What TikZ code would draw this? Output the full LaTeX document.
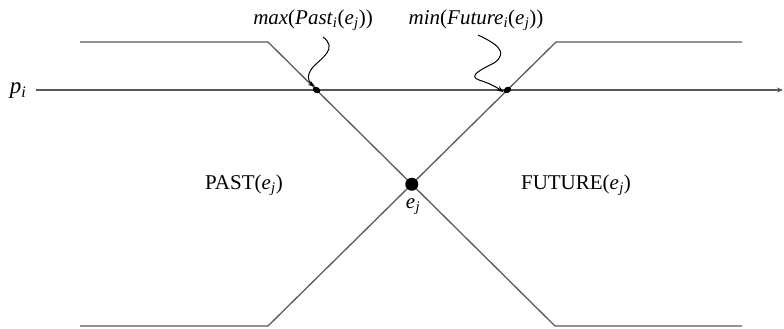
\documentclass[tikz,border=0pt]{standalone}
\usepackage{fontspec}
\setmainfont{Liberation Serif}
\usetikzlibrary{arrows.meta,intersections,shapes.geometric}
\newcommand{\ejx}{\textit{e}\kern0.3pt\textsubscript{\textit{j}}}
\begin{document}
\begin{tikzpicture}[x=1pt,y=-1pt,
  cone/.style={draw=black!65,line width=1.3pt},
  lbl/.style={font=\fontsize{21}{24}\selectfont,inner sep=0pt},
  squig/.style={draw=black,line width=1pt,-{Stealth[length=7pt,width=5pt]}},
  bigdot/.style={circle,fill=black,inner sep=0pt,minimum size=13pt},
  smalldot/.style={ellipse,fill=black,inner sep=0pt,minimum width=8pt,minimum height=6pt}]
\useasboundingbox (0,0) rectangle (784,329);
% cone corners
\coordinate (tl1) at (80,42);
\coordinate (tl2) at (268,42);
\coordinate (bl1) at (80,326);
\coordinate (bl2) at (268,326);
\coordinate (tr1) at (556,42);
\coordinate (tr2) at (742,42);
\coordinate (br1) at (555,326);
\coordinate (br2) at (742,326);
\coordinate (p1) at (36,90);
\coordinate (p2) at (783,90);
\draw[cone] (tl1) -- (tl2) -- (br1) -- (br2);
\draw[cone] (tr2) -- (tr1) -- (bl2) -- (bl1);
\draw[cone,-{Stealth[length=6pt,width=5pt]}] (p1) -- (p2);
% intersections
\node[bigdot] (ej) at (intersection of tl2--br1 and tr1--bl2) {};
\node[smalldot,rotate=-30] (mx) at (intersection of p1--p2 and tl2--br1) {};
\node[smalldot,rotate=30] (mn) at (intersection of p1--p2 and tr1--bl2) {};
% labels
\node[lbl,font=\fontsize{23}{26}\selectfont] (pi) at (18,91) {\textit{p}\textsubscript{\textit{i}}};
\node[lbl] (maxl) at (313,20) {\textit{max}(\textit{Past}\textsubscript{\textit{i}}(\ejx))};
\node[lbl] (minl) at (476,20) {\textit{min}(\textit{Future}\textsubscript{\textit{i}}(\ejx))};
\node[lbl] (past) at (244,185) {PAST(\ejx)};
\node[lbl] (fut) at (576,185) {FUTURE(\ejx)};
\node[lbl] (ejl) at (413,207) {\ejx};
% squiggle arrows
\coordinate (ms) at (323,37);
\coordinate (ns) at (478,35);
\draw[squig] (ms) .. controls (338,48) and (322,58) .. (314,66)
  .. controls (306,74) and (308,82) .. (mx.north west);
\draw[squig] (ns) .. controls (495,43) and (510,52) .. (494,63)
  .. controls (480,70) and (468,76) .. (479,80)
  .. controls (488,83) and (493,85) .. (mn.west);
\end{tikzpicture}
\end{document}
